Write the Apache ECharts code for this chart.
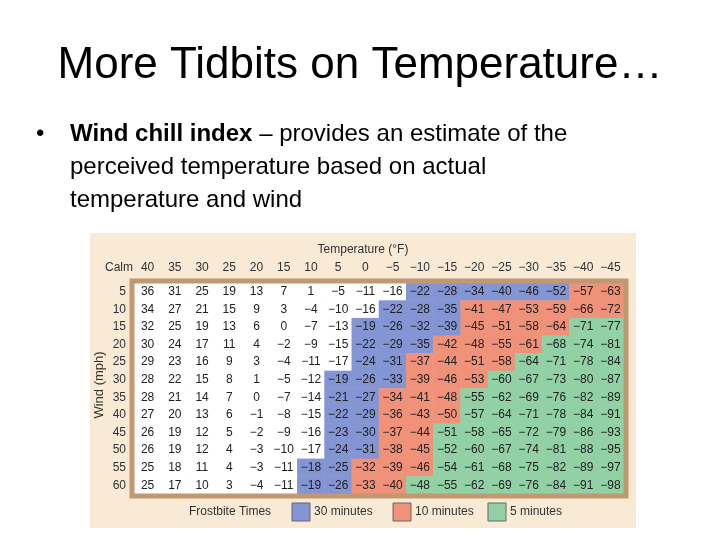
<!DOCTYPE html>
<html><head><meta charset="utf-8">
<script src="https://cdn.jsdelivr.net/npm/echarts@6/dist/echarts.min.js"></script>
<style>html,body{margin:0;padding:0;background:#fff}#c{width:720px;height:540px}</style>
</head><body><div id="c"></div>
<script>
var temps = ['40','35','30','25','20','15','10','5','0','−5','−10','−15','−20','−25','−30','−35','−40','−45'];
var winds = ['5','10','15','20','25','30','35','40','45','50','55','60'];
var chill = [
[36,31,25,19,13,7,1,-5,-11,-16,-22,-28,-34,-40,-46,-52,-57,-63],
[34,27,21,15,9,3,-4,-10,-16,-22,-28,-35,-41,-47,-53,-59,-66,-72],
[32,25,19,13,6,0,-7,-13,-19,-26,-32,-39,-45,-51,-58,-64,-71,-77],
[30,24,17,11,4,-2,-9,-15,-22,-29,-35,-42,-48,-55,-61,-68,-74,-81],
[29,23,16,9,3,-4,-11,-17,-24,-31,-37,-44,-51,-58,-64,-71,-78,-84],
[28,22,15,8,1,-5,-12,-19,-26,-33,-39,-46,-53,-60,-67,-73,-80,-87],
[28,21,14,7,0,-7,-14,-21,-27,-34,-41,-48,-55,-62,-69,-76,-82,-89],
[27,20,13,6,-1,-8,-15,-22,-29,-36,-43,-50,-57,-64,-71,-78,-84,-91],
[26,19,12,5,-2,-9,-16,-23,-30,-37,-44,-51,-58,-65,-72,-79,-86,-93],
[26,19,12,4,-3,-10,-17,-24,-31,-38,-45,-52,-60,-67,-74,-81,-88,-95],
[25,18,11,4,-3,-11,-18,-25,-32,-39,-46,-54,-61,-68,-75,-82,-89,-97],
[25,17,10,3,-4,-11,-19,-26,-33,-40,-48,-55,-62,-69,-76,-84,-91,-98]
];
// per row: number of cells [none, 30 min, 10 min, 5 min]
var zoneCounts = [
[10,6,2,0],[9,3,6,0],[8,4,4,2],[8,3,4,3],[8,2,4,4],[7,3,3,5],
[7,2,3,6],[7,2,3,6],[7,2,2,7],[7,2,2,7],[6,2,3,7],[6,2,2,8]
];
var legendNames = ['30 minutes','10 minutes','5 minutes'];

var zoneColors = ['#ffffff','#8495d4','#ef9279','#92d0a5'];
var data = [];
winds.forEach(function(w, r){
  var z = [], zc = zoneCounts[r];
  for (var k=0;k<4;k++) for (var n=0;n<zc[k];n++) z.push(k);
  temps.forEach(function(t, c){
    data.push({value:[c, r, z[c], chill[r][c]]});
  });
});
var gl=134, gt=283, gw=490, gh=211;
var chart = echarts.init(document.getElementById('c'));
var F='Liberation Sans, Arial, sans-serif';
var g = [
 {type:'text', left:'center', top:44, style:{text:'More Tidbits on Temperature…', font:'44px '+F, fill:'#000'}},
 {type:'text', left:36, top:122, style:{text:'•', font:'24px '+F, fill:'#000'}},
 {type:'text', left:70, top:122, style:{rich:{b:{font:'bold 24px '+F,fill:'#000'},n:{font:'24px '+F,fill:'#000'}}, text:'{b|Wind chill index}{n| – provides an estimate of the}'}},
 {type:'text', left:70, top:155, style:{text:'perceived temperature based on actual', font:'24px '+F, fill:'#000'}},
 {type:'text', left:70, top:188, style:{text:'temperature and wind', font:'24px '+F, fill:'#000'}},
 {type:'rect', z:-10, shape:{x:90,y:233,width:546,height:295}, style:{fill:'#f8ead5'}},
 {type:'rect', z:100, shape:{x:gl-2,y:gt-2,width:gw+4,height:gh+4}, style:{fill:null, stroke:'#c39870', lineWidth:5}},
 {type:'text', x:363, y:250, style:{text:'Temperature (°F)', font:'12px '+F, fill:'#333', align:'center', verticalAlign:'middle'}},
 {type:'text', x:119, y:268, style:{text:'Calm', font:'12px '+F, fill:'#333', align:'center', verticalAlign:'middle'}},
 {type:'text', x:99, y:385, rotation:Math.PI/2, style:{text:'Wind (mph)', font:'13px '+F, fill:'#333', align:'center', verticalAlign:'middle'}},
 {type:'text', x:230, y:512, style:{text:'Frostbite Times', font:'12px '+F, fill:'#333', align:'center', verticalAlign:'middle'}}
];
var lx=[292,393,488];
legendNames.forEach(function(n,i){
  g.push({type:'rect', shape:{x:lx[i],y:503,width:18,height:18}, style:{fill:zoneColors[i+1], stroke:'#666', lineWidth:1}});
  g.push({type:'text', x:lx[i]+22, y:512, style:{text:n, font:'12px '+F, fill:'#333', verticalAlign:'middle'}});
});
chart.setOption({
  animation:false,
  graphic:g,
  grid:{left:gl, top:gt, width:gw, height:gh},
  xAxis:{type:'category', data:temps, position:'top', axisLine:{show:false}, axisTick:{show:false}, axisLabel:{color:'#333', fontSize:12, fontFamily:F, margin:9}},
  yAxis:{type:'category', data:winds, inverse:true, axisLine:{show:false}, axisTick:{show:false}, axisLabel:{color:'#333', fontSize:12, fontFamily:F, margin:8}},
  visualMap:{show:false, type:'piecewise', dimension:2, seriesIndex:0,
    pieces:[{value:0,color:zoneColors[0]},{value:1,color:zoneColors[1]},{value:2,color:zoneColors[2]},{value:3,color:zoneColors[3]}]},
  series:[{type:'heatmap', data:data, itemStyle:{borderWidth:0},
    label:{show:true, color:'#222', fontSize:12, fontFamily:F,
      formatter:function(p){var v=p.value[3]; return v<0?'−'+(-v):String(v);}}}]
});
</script></body></html>
